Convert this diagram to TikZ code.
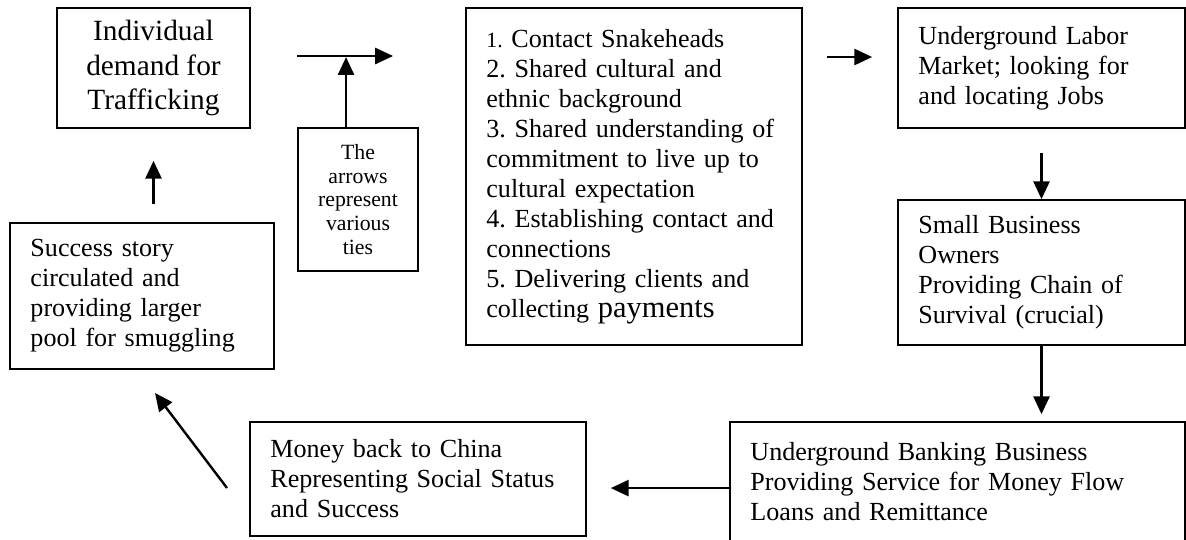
\documentclass[tikz,border=0pt]{standalone}
\usepackage{fontspec}
\setmainfont{Liberation Serif}
\usetikzlibrary{arrows.meta}
\frenchspacing

\begin{document}
\begin{tikzpicture}[x=0.46pt,y=0.46pt,
  box/.style={draw=black,line width=0.8pt,inner sep=0pt,font=\fontsize{12}{13.8}\selectfont},
  lbox/.style={box,align=left,inner xsep=9.4pt},
  arr/.style={draw=black,line width=1.1pt,-{Triangle[length=8.2pt,width=7.4pt]}}]
\path[use as bounding box,clip] (0,0) rectangle (1186,-539);
\node[box,minimum width=88.8pt,minimum height=55.2pt,align=center,font=\fontsize{13.5}{15.7}\selectfont] (demand) at (153.5,-68) {Individual\\demand for\\Trafficking};
\node[lbox,text width=102.6pt,minimum height=67.2pt] (story) at (142,-296) {Success story\\circulated and\\providing larger\\pool for smuggling};
\node[box,minimum width=55.2pt,minimum height=65.8pt,align=center,font=\fontsize{10}{11}\selectfont] (ties) at (358,-199.5) {The\\arrows\\represent\\various\\ties};
\node[lbox,text width=135.8pt,minimum height=155pt] (list) at (634,-176.5) {{\fontsize{10}{11}\selectfont 1.} Contact Snakeheads\\2. Shared cultural and\\ethnic background\\3. Shared understanding of\\commitment to live up to\\cultural expectation\\4. Establishing contact and\\connections\\5. Delivering clients and\\collecting {\fontsize{14}{16}\selectfont payments}};
\node[lbox,text width=113.2pt,minimum height=55.2pt] (labor) at (1041.5,-68) {Underground Labor\\Market; looking for\\and locating Jobs};
\node[lbox,text width=113.2pt,minimum height=66.7pt] (shop) at (1041.5,-272.5) {Small Business\\Owners\\Providing Chain of\\Survival (crucial)};
\node[lbox,text width=190.5pt,minimum height=55.2pt] (bank) at (957.5,-482) {Underground Banking Business\\Providing Service for Money Flow\\Loans and Remittance};
\node[lbox,text width=135.8pt,minimum height=52.4pt] (money) at (418,-479) {Money back to China\\Representing Social Status\\and Success};
\coordinate (tieL) at (297,-56);
\coordinate (tieR) at (393,-56);
\coordinate (back) at (227,-488);
\coordinate (pool) at (155,-393);
\draw[arr,shorten <=8.3pt,shorten >=14.7pt] (story.north -| demand.south) -- (demand.south);
\draw[arr] (tieL) -- (tieR);
\draw[arr] ([xshift=-5.5pt]ties.north) -- ++(0,70);
\draw[arr,shorten <=11pt,shorten >=11.5pt] (list.east |- 0,-57) -- (labor.west |- 0,-57);
\draw[arr,shorten <=11pt] (labor.south) -- (shop.north);
\draw[arr,shorten >=3.2pt] (shop.south) -- (shop.south |- bank.north);
\draw[arr,shorten >=11pt] ([yshift=-2.8pt]bank.west) -- ([yshift=-2.8pt]bank.west -| money.east);
\draw[arr] (back) -- (pool);
\end{tikzpicture}
\end{document}
